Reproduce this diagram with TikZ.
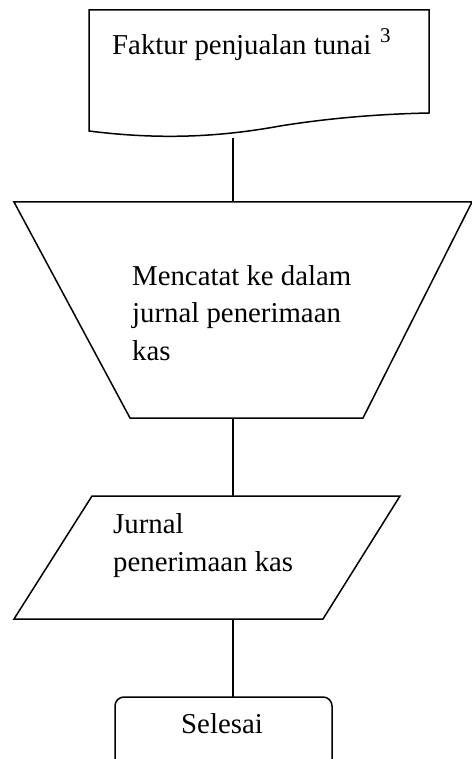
\documentclass[tikz,border=0pt]{standalone}
\usepackage{fontspec}
\setmainfont{Liberation Serif}
\begin{document}
\begin{tikzpicture}[x=1pt,y=-1pt,
  lbl/.style={anchor=base west, inner sep=0pt, font=\fontsize{28.8}{37.5}\selectfont},
  suplbl/.style={anchor=base west, inner sep=0pt, font=\fontsize{21}{25}\selectfont},
  shp/.style={draw=black, line width=1.5pt, line join=miter},
  conn/.style={draw=black, line width=1.5pt}]
\useasboundingbox (0,0) rectangle (471,759);
% document shape
\draw[shp] (89,10) -- (429,10) -- (429,113)
  .. controls (380,114) and (330,118) .. (280,126)
  .. controls (220,137) and (160,140) .. (89,131) -- cycle;
\coordinate (docB) at (233,138);
\node[lbl] (t1) at (112,55) {Faktur penjualan tunai};
\node[suplbl] (sup) at (380,43) {3};
% manual operation (trapezoid)
\draw[shp] (14,202) -- (472,202) -- (363,418) -- (130,418) -- cycle;
\coordinate (trT) at (233,202);
\coordinate (trB) at (233,418);
\node[lbl] (m1) at (132,285) {Mencatat ke dalam};
\node[lbl] (m2) at (132,322) {jurnal penerimaan};
\node[lbl] (m3) at (132,360) {kas};
% data (parallelogram)
\draw[shp] (92,496) -- (400,496) -- (323,619) -- (14,619) -- cycle;
\coordinate (pT) at (233,496);
\coordinate (pB) at (233,619);
\node[lbl] (j1) at (113,533) {Jurnal};
\node[lbl] (j2) at (113,571) {penerimaan kas};
% terminator
\draw[shp, rounded corners=9pt] (115,697) rectangle (332,785);
\coordinate (tT) at (233,697);
\node[lbl, anchor=base] (s1) at (222,733) {Selesai};
% connectors
\draw[conn] (docB) -- (trT);
\draw[conn] (trB) -- (pT);
\draw[conn] (pB) -- (tT);
\end{tikzpicture}
\end{document}
